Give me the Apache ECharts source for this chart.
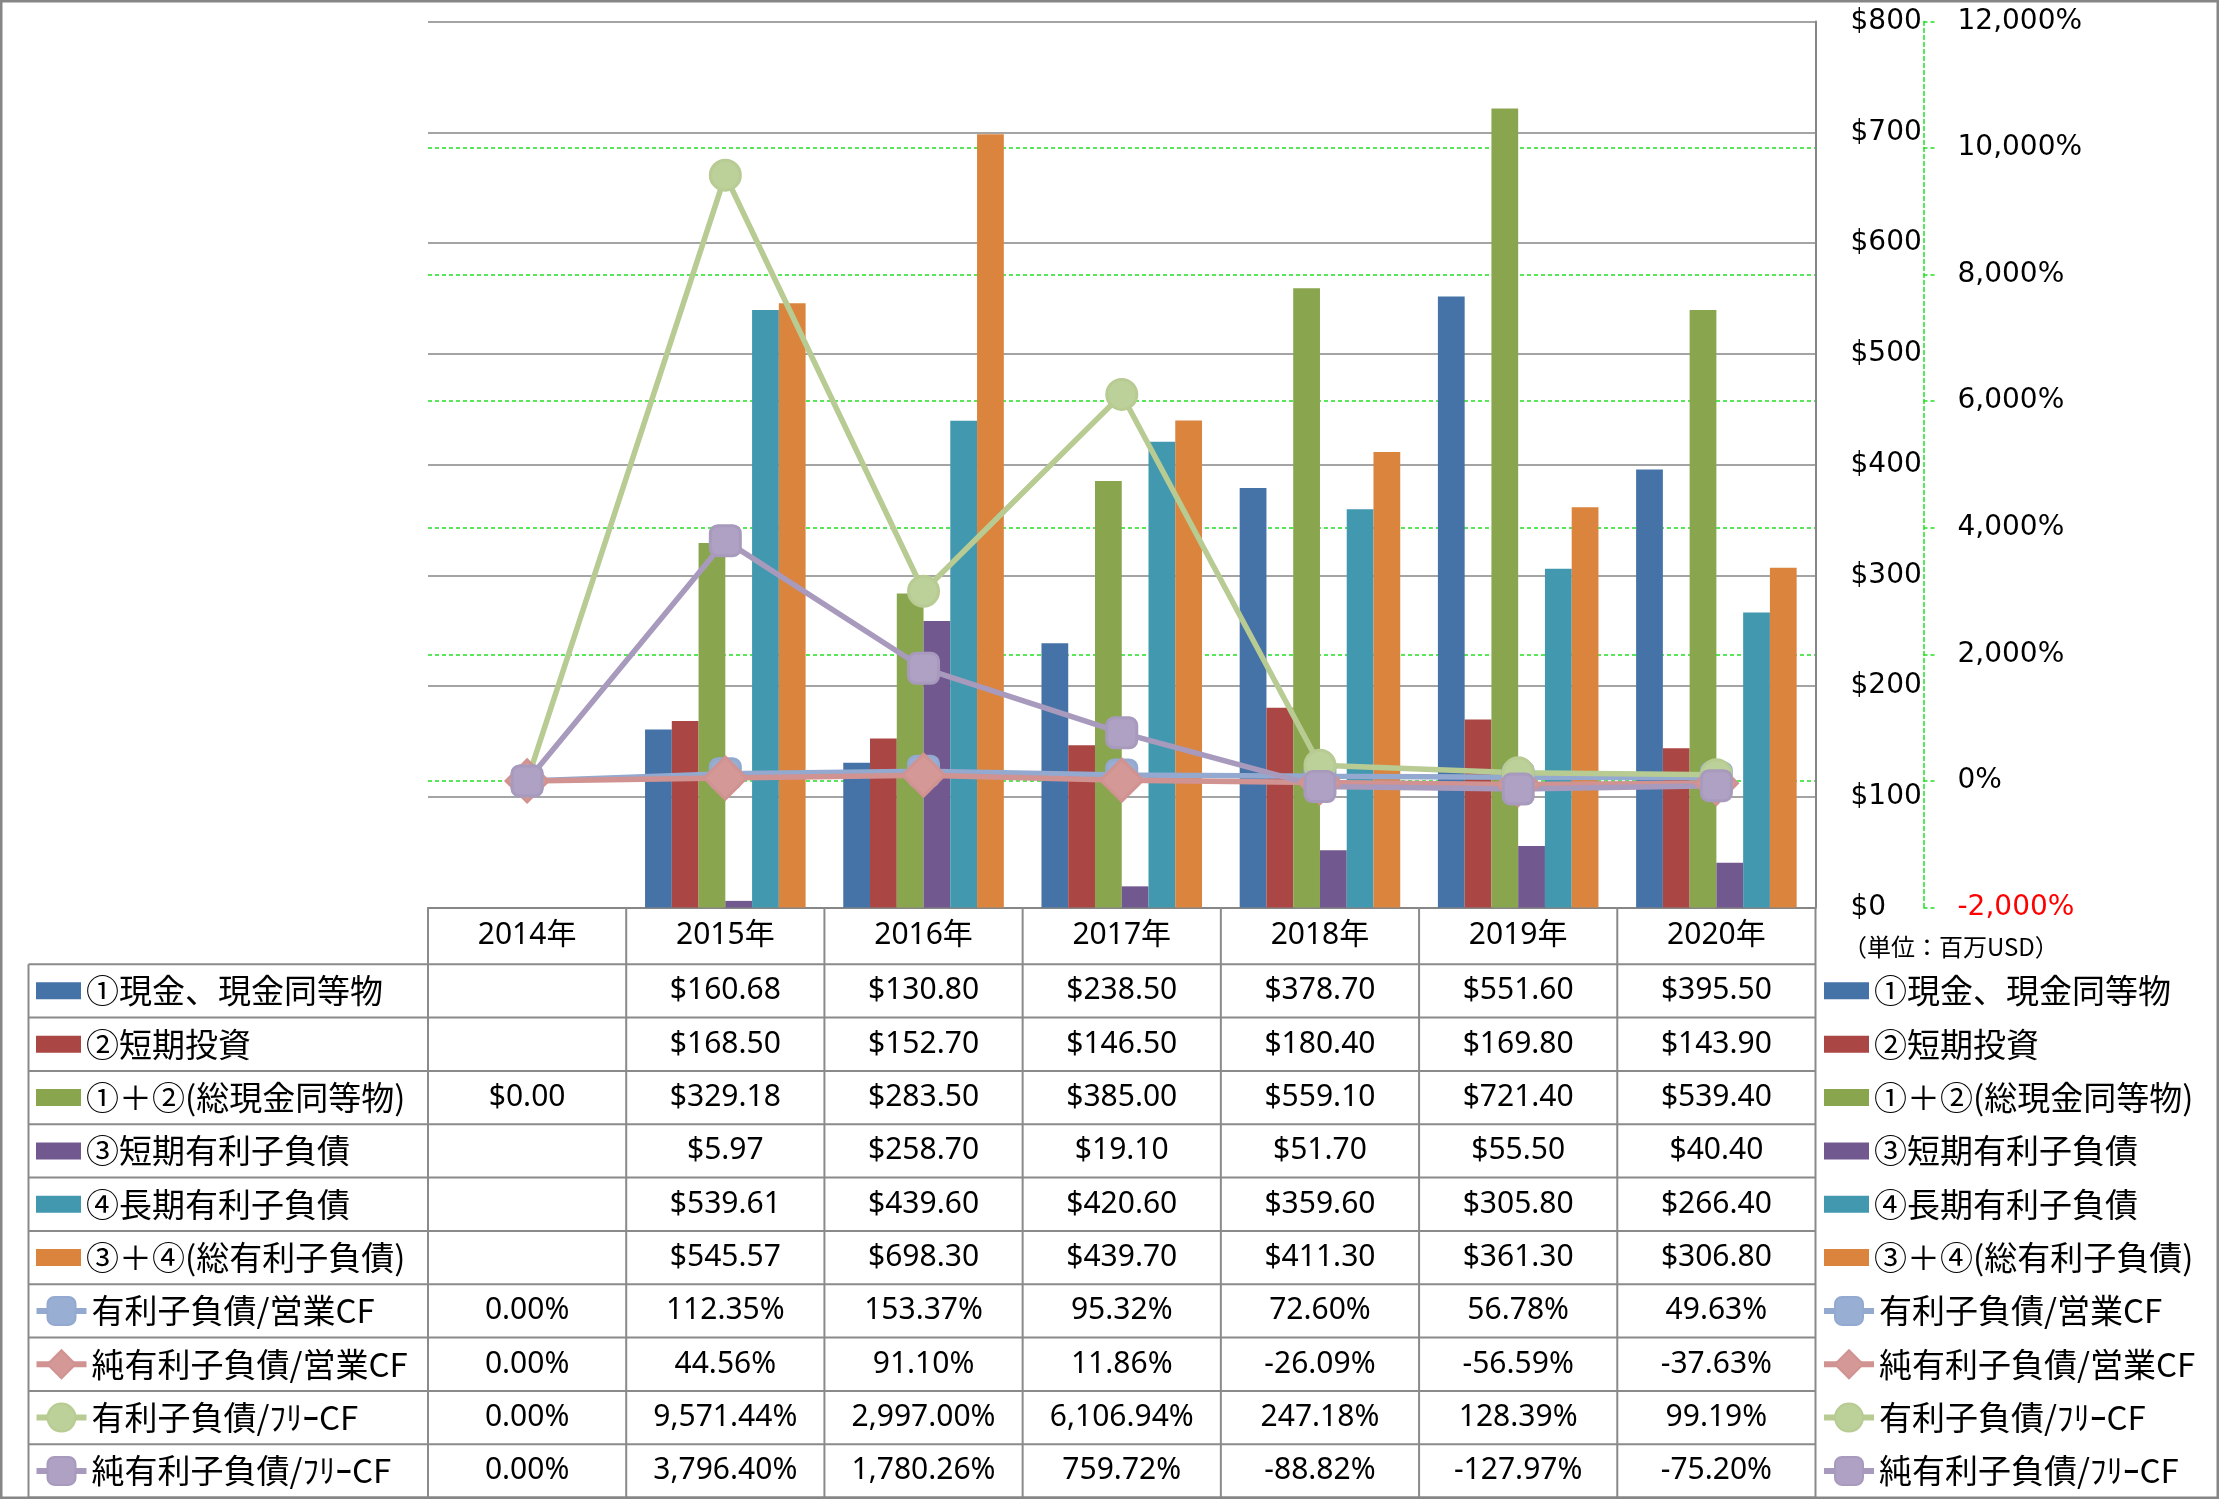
<!DOCTYPE html>
<html><head><meta charset="utf-8">
<script src="https://cdn.jsdelivr.net/npm/echarts@6/dist/echarts.min.js"></script>
<style>html,body{margin:0;padding:0;background:#fff}#c{width:2221px;height:1500px}</style>
</head><body><div id="c"></div>
<script>
// ---- data ----
const years = ['2014年','2015年','2016年','2017年','2018年','2019年','2020年'];
const cash       = [null,160.68,130.80,238.50,378.70,551.60,395.50];
const shortInv   = [null,168.50,152.70,146.50,180.40,169.80,143.90];
const totalCash  = [0.00,329.18,283.50,385.00,559.10,721.40,539.40];
const shortDebt  = [null,5.97,258.70,19.10,51.70,55.50,40.40];
const longDebt   = [null,539.61,439.60,420.60,359.60,305.80,266.40];
const totalDebt  = [null,545.57,698.30,439.70,411.30,361.30,306.80];
const debtOpCF   = [0.00,112.35,153.37,95.32,72.60,56.78,49.63];
const netDebtOpCF= [0.00,44.56,91.10,11.86,-26.09,-56.59,-37.63];
const debtFCF    = [0.00,9571.44,2997.00,6106.94,247.18,128.39,99.19];
const netDebtFCF = [0.00,3796.40,1780.26,759.72,-88.82,-127.97,-75.20];
const barNames = ['①現金、現金同等物','②短期投資','①＋②(総現金同等物)','③短期有利子負債','④長期有利子負債','③＋④(総有利子負債)'];
const lineNames = ['有利子負債/営業CF','純有利子負債/営業CF','有利子負債/ﾌﾘｰCF','純有利子負債/ﾌﾘｰCF'];
const unitLabel = '（単位：百万USD）';

// ---- style ----
const barColors = ['#4572A7','#AA4643','#89A54E','#71588F','#4198AF','#DB843D'];
const lineColors = ['#93A9CF','#D09392','#B7CB93','#A89ABD'];
const lineFill   = ['#98AED3','#D49897','#BCD09A','#AEA1C3'];
const lineSymbols = ['roundRect','diamond','circle','roundRect'];
const lineSymbolSize = [30,42,30,30];
const barData = [cash, shortInv, totalCash, shortDebt, longDebt, totalDebt];
const lineData = [debtOpCF, netDebtOpCF, debtFCF, netDebtFCF];

const W = 2221, H = 1500;
const PL = 428, PR = 1815.5, PT = 21.5, PB = 907.5;
const ROW0 = 964.2, ROWH = 53.34;
const GRAY = '#868686', GREEN = '#22E022';
const NUMFONT = "'Noto Sans','Noto Sans CJK JP',sans-serif";
const CJKFONT = "'Noto Sans CJK JP',sans-serif";

const fmtUSD = v => v == null ? '' : '$' + v.toFixed(2);
const fmtPct = v => v == null ? '' : v.toLocaleString('en-US',{minimumFractionDigits:2,maximumFractionDigits:2}) + '%';

const chart = echarts.init(document.getElementById('c'), null, {renderer:'canvas'});

const series = [];
barNames.forEach((n,i)=>series.push({
  name:n, type:'bar', data:barData[i], barGap:'0%', barCategoryGap:'19%',
  itemStyle:{color:barColors[i]}
}));
lineNames.forEach((n,i)=>series.push({
  name:n, type:'line', yAxisIndex:1, data:lineData[i],
  symbol:lineSymbols[i], symbolSize:lineSymbolSize[i], showAllSymbol:true,
  lineStyle:{width:5.5, color:lineColors[i]},
  itemStyle:{color:lineFill[i], borderColor:lineColors[i], borderWidth:3}
}));

function mkLegend(data, left, top, iw, ih, icon){
  return {
    data:data.map(n=>icon?{name:n, icon:icon}:{name:n}), orient:'vertical', left:left, top:top,
    itemWidth:iw, itemHeight:ih, itemGap:0, padding:0, selectedMode:false,
    lineStyle:{width:6},
    textStyle:{fontSize:33, fontFamily:CJKFONT, color:'#000', lineHeight:ROWH, padding:[0,0,0,0]}
  };
}

const option = {
  animation:false,
  backgroundColor:'#fff',
  grid:{left:PL, top:PT, right:W-PR, bottom:H-PB, containLabel:false},
  xAxis:{type:'category', data:years,
    axisLine:{show:true, lineStyle:{color:GRAY, width:2}},
    axisTick:{show:false},
    axisLabel:{fontSize:30, color:'#000', fontFamily:NUMFONT, verticalAlign:'middle', margin:27.5},
    splitLine:{show:false}
  },
  yAxis:[
    {type:'value', min:0, max:800, interval:100, position:'right', offset:0,
      axisLine:{show:true, lineStyle:{color:GRAY, width:2}},
      axisTick:{show:false},
      axisLabel:{margin:35, fontSize:28, color:'#000', fontFamily:"'DejaVu Sans',sans-serif", formatter:v=>'$'+v},
      splitLine:{show:true, lineStyle:{color:GRAY, width:1.5}}
    },
    {type:'value', min:-2000, max:12000, interval:2000, position:'right', offset:108,
      axisLine:{show:true, lineStyle:{color:GREEN, width:1.5, type:[4,3]}},
      axisTick:{show:true, length:12, lineStyle:{color:GREEN, width:1.5, type:[4,3]}},
      axisLabel:{margin:34, fontSize:28, fontFamily:"'DejaVu Sans',sans-serif",
        color:(v)=> (Number(v) < 0 ? '#FF0000' : '#000'),
        formatter:v=>v.toLocaleString('en-US')+'%'},
      splitLine:{show:true, showMinLine:false, showMaxLine:false, lineStyle:{color:GREEN, width:1.5, type:[4,3]}}
    }
  ],
  legend:[
    mkLegend(barNames, 36, ROW0, 45, 17, 'rect'),
    mkLegend(lineNames, 33.5, ROW0 + 6*ROWH, 50, 35),
    mkLegend(barNames, 1824, ROW0, 45, 17, 'rect'),
    mkLegend(lineNames, 1821, ROW0 + 6*ROWH, 50, 35)
  ],
  series:series
};
chart.setOption(option);

// ---- data table (drawn from the same arrays) ----
const xs = years.map((y,i)=>chart.convertToPixel({xAxisIndex:0}, i));
const cw = xs[1]-xs[0];
const g = [];
const tl = {stroke:'#8a8a8a', lineWidth:2};
for(let r=0;r<=10;r++){
  const y = ROW0 + r*ROWH;
  g.push({type:'line', silent:true, shape:{x1:28.5, y1:y, x2:PR, y2:y}, style:tl, z:10});
}
g.push({type:'line', silent:true, shape:{x1:28.5, y1:ROW0, x2:28.5, y2:ROW0+10*ROWH}, style:tl, z:10});
for(let k=0;k<=years.length;k++){
  const x = xs[0] - cw/2 + k*cw;
  g.push({type:'line', silent:true, shape:{x1:x, y1:PB, x2:x, y2:ROW0+10*ROWH}, style:tl, z:10});
}
const rowVals = [
  ...barData.map(a=>a.map(fmtUSD)),
  ...lineData.map(a=>a.map(fmtPct))
];
rowVals.forEach((vals,r)=>{
  const y = ROW0 + (r+0.5)*ROWH;
  vals.forEach((t,i)=>{
    if(!t) return;
    g.push({type:'text', silent:true, z:11, style:{text:t, x:xs[i], y:y,
      align:'center', verticalAlign:'middle', textAlign:'center', textVerticalAlign:'middle',
      fontSize:30, fontFamily:NUMFONT, fill:'#000'}});
  });
});
g.push({type:'text', silent:true, z:11, style:{text:unitLabel, x:1843, y:947,
  align:'left', verticalAlign:'middle', textAlign:'left', textVerticalAlign:'middle',
  fontSize:24, fontFamily:CJKFONT, fill:'#000'}});
g.push({type:'rect', silent:true, z:12, shape:{x:1.25, y:1.25, width:W-4.5, height:H-3.5},
  style:{fill:'none', stroke:GRAY, lineWidth:2.5}});
chart.setOption({graphic:{elements:g}});
</script>
</body></html>
